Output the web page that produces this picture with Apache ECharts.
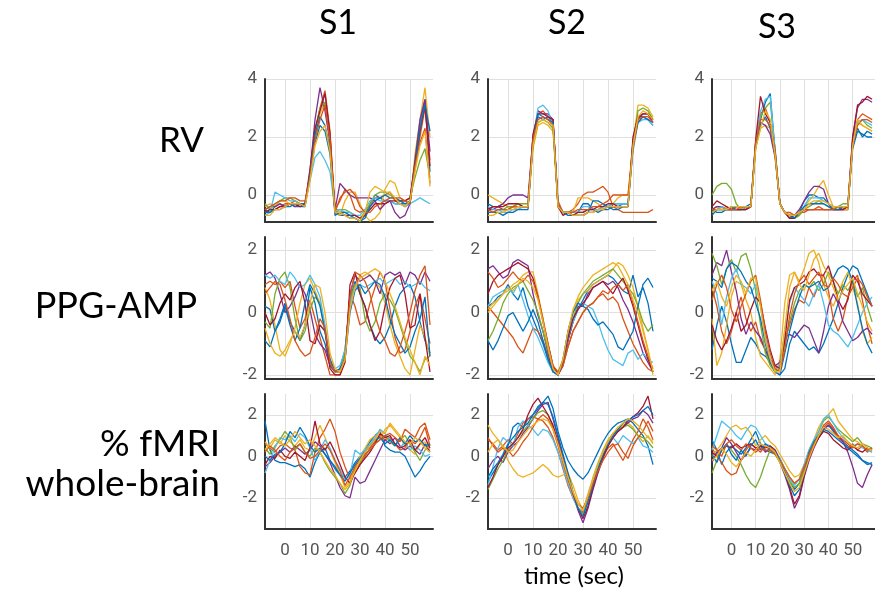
<!DOCTYPE html>
<html><head><meta charset="utf-8">
<script src="https://cdn.jsdelivr.net/npm/echarts@6/dist/echarts.min.js"></script>
<style>html,body{margin:0;padding:0;background:#fff}#c{width:875px;height:613px}</style>
</head><body><div id="c"></div>
<script>
// ---------- data ----------
const TIME = [-8,-6,-4,-2,0,2,4,6,8,10,12,14,16,18,20,22,24,26,28,30,32,34,36,38,40,42,44,46,48,50,52,54,56,58];
const X_TICKS = [0,10,20,30,40,50];
const RV_TICKS = [0,2,4];
const PPG_TICKS = [-2,0,2];
const FMRI_TICKS = [-2,0,2];
const COL_TITLES = ['S1','S2','S3'];
const ROW_TITLES = ['RV','PPG-AMP','% fMRI\nwhole-brain'];
const X_TITLE = 'time (sec)';
const COLORS = ['#0072BD','#D95319','#EDB120','#7E2F8E','#77AC30','#4DBEEE','#A2142F'];

const S1_RV = [
[-0.5,-0.6,-0.4,-0.3,-0.4,-0.3,-0.4,-0.4,-0.4,0.6,1.8,2.4,2.2,1.4,-0.6,-0.7,-0.7,-0.8,-0.8,-0.9,-0.7,-0.3,0.0,-0.1,-0.2,-0.2,-0.3,-0.3,-0.3,-0.2,1.2,2.5,3.3,0.8],
[-0.6,-0.5,-0.5,-0.4,-0.3,-0.3,-0.2,-0.3,-0.3,0.7,2.2,3.0,3.6,2.2,-0.5,-0.2,0.2,0.0,-0.5,-0.6,-0.5,-0.4,-0.1,-0.1,0.0,0.1,-0.2,-0.3,-0.4,-0.3,0.9,2.0,3.0,1.2],
[-0.4,-0.3,-0.4,-0.2,-0.2,-0.3,-0.3,-0.3,-0.3,0.6,2.0,2.8,3.2,1.9,-0.6,-0.7,-0.2,0.1,0.1,-0.3,-0.7,-0.9,-0.8,-0.6,0.2,0.5,0.4,-0.1,-0.2,-0.3,1.4,2.6,3.7,2.0],
[-0.5,-0.4,-0.4,-0.3,-0.4,-0.3,-0.4,-0.3,-0.4,0.8,2.6,3.7,2.9,1.8,-0.5,0.4,0.2,0.0,-0.1,-0.1,-0.1,-0.1,-0.2,-0.5,-0.3,-0.2,-0.6,-0.8,-0.7,-0.3,1.2,2.6,3.3,1.5],
[-0.3,-0.5,-0.3,-0.2,-0.1,-0.1,-0.2,-0.3,-0.3,0.6,2.2,3.0,3.2,2.0,-0.6,-0.5,-0.5,-0.6,-0.7,-0.8,-0.6,-0.3,0.0,0.1,0.1,0.0,-0.1,-0.2,-0.2,-0.1,0.6,1.2,1.6,0.6],
[-0.7,-0.6,0.1,0.0,-0.1,-0.2,-0.2,-0.3,-0.3,0.5,1.3,1.5,1.2,0.8,-0.5,-0.5,-0.6,-0.6,-0.7,-0.7,-0.5,-0.2,-0.1,-0.2,-0.2,-0.2,-0.3,-0.3,-0.4,-0.3,-0.2,-0.1,-0.2,-0.3],
[-0.6,-0.5,-0.5,-0.4,-0.4,-0.3,-0.3,-0.4,-0.3,0.9,2.3,2.9,3.5,2.1,-0.6,-0.6,-0.7,-0.7,-0.7,-0.8,-0.7,-0.5,-0.3,-0.3,-0.3,-0.2,-0.2,-0.2,-0.2,-0.1,1.1,2.2,3.1,1.0],
[-0.6,-0.6,-0.5,-0.5,-0.4,-0.4,-0.3,-0.3,-0.3,0.7,2.1,2.7,2.4,1.6,-0.7,-0.6,-0.6,-0.7,-0.8,-0.9,-0.8,-0.4,-0.2,-0.1,0.0,-0.1,-0.1,-0.2,-0.3,-0.3,1.0,2.3,3.1,2.2],
[-0.5,-0.4,-0.3,-0.2,-0.2,-0.1,-0.1,-0.2,-0.2,0.6,1.9,2.6,3.1,1.9,-0.6,-0.1,0.1,0.2,0.0,-0.4,-0.6,-0.6,-0.4,-0.3,-0.2,-0.1,-0.1,-0.1,-0.2,-0.3,1.0,1.8,2.3,0.4],
[-0.7,-0.7,-0.5,-0.5,-0.4,-0.3,-0.3,-0.3,-0.4,0.5,1.7,2.2,2.4,1.5,-0.6,-0.6,-0.7,-0.8,-0.8,-0.9,-0.6,0.1,0.3,0.2,0.1,0.1,-0.1,-0.3,-0.4,-0.2,0.8,1.7,2.2,0.3]
];
const S2_RV = [
[-0.3,-0.4,-0.4,-0.5,-0.5,-0.4,-0.4,-0.4,-0.4,1.8,2.7,2.6,2.7,2.5,-0.3,-0.6,-0.6,-0.6,-0.6,-0.3,-0.3,-0.5,-0.6,-0.5,-0.5,-0.4,-0.4,-0.3,-0.3,1.6,2.7,2.7,2.6,2.4],
[-0.5,-0.4,-0.4,-0.3,-0.4,-0.4,-0.3,-0.4,-0.4,2.0,2.8,2.9,2.7,2.6,-0.2,-0.6,-0.6,-0.5,-0.3,0.0,0.1,0.1,0.2,0.3,0.1,-0.4,-0.5,-0.6,-0.6,-0.6,-0.6,-0.6,-0.6,-0.5],
[0.0,-0.1,-0.2,-0.3,-0.4,-0.4,-0.5,-0.4,-0.4,1.6,2.4,2.5,2.4,2.2,-0.3,-0.6,-0.6,-0.6,-0.1,-0.1,-0.1,-0.2,-0.3,-0.5,-0.4,-0.3,-0.1,0.0,0.0,1.8,3.1,3.1,3.0,2.7],
[-0.5,-0.5,-0.4,-0.3,-0.1,0.0,0.0,0.0,-0.1,2.0,2.9,2.8,2.8,2.6,-0.4,-0.6,-0.6,-0.7,-0.7,-0.7,-0.6,-0.6,-0.5,-0.5,-0.4,-0.4,-0.4,-0.4,-0.4,1.9,2.6,2.8,2.8,2.5],
[-0.6,-0.6,-0.5,-0.5,-0.4,-0.4,-0.3,-0.3,-0.3,1.7,2.5,2.6,2.5,2.3,-0.4,-0.6,-0.6,-0.6,-0.6,-0.6,-0.5,-0.5,-0.5,-0.4,-0.4,-0.3,-0.3,-0.3,-0.3,1.8,2.9,3.0,2.9,2.6],
[-0.4,-0.5,-0.5,-0.6,-0.6,-0.5,-0.5,-0.4,-0.4,1.9,3.0,3.1,2.9,2.4,-0.3,-0.6,-0.6,-0.6,-0.6,-0.4,-0.4,-0.5,-0.5,-0.4,-0.4,-0.3,-0.3,-0.3,-0.3,1.5,2.5,2.6,2.6,2.4],
[-0.5,-0.4,-0.4,-0.4,-0.3,-0.3,-0.3,-0.4,-0.4,2.1,2.8,2.8,2.7,2.6,-0.4,-0.7,-0.6,-0.7,-0.6,-0.6,-0.5,-0.5,-0.4,-0.4,-0.3,-0.3,-0.4,-0.4,-0.4,2.0,2.7,2.8,2.8,2.6],
[-0.6,-0.6,-0.6,-0.7,-0.6,-0.6,-0.5,-0.5,-0.5,1.8,2.8,2.7,2.6,2.5,-0.3,-0.6,-0.7,-0.7,-0.7,-0.7,-0.6,-0.2,-0.2,-0.3,-0.4,-0.5,-0.5,-0.4,-0.4,1.7,2.5,2.7,2.6,2.5],
[-0.5,-0.6,-0.5,-0.5,-0.5,-0.4,-0.4,-0.4,-0.4,1.9,2.6,2.7,2.6,2.4,-0.3,-0.6,-0.6,-0.6,-0.5,-0.5,-0.5,-0.4,-0.4,-0.3,-0.2,0.0,0.0,0.0,0.0,1.6,2.6,2.7,2.7,2.5],
[-0.7,-0.7,-0.6,-0.6,-0.5,-0.5,-0.4,-0.4,-0.4,1.7,2.5,2.6,2.5,2.4,-0.4,-0.6,-0.6,-0.7,-0.7,-0.7,-0.6,-0.6,-0.5,-0.5,-0.4,-0.4,-0.4,-0.4,-0.4,1.7,2.7,2.9,2.8,2.6]
];
const S3_RV = [
[-0.7,-0.5,-0.5,-0.5,-0.4,-0.5,-0.5,-0.4,-0.3,1.8,2.6,3.2,3.5,1.5,-0.3,-0.6,-0.7,-0.7,-0.6,-0.2,0.0,0.0,-0.1,-0.1,-0.3,-0.4,-0.4,-0.5,-0.5,1.8,2.3,2.0,2.2,2.1],
[-0.5,-0.5,-0.4,-0.5,-0.5,-0.4,-0.4,-0.5,-0.4,1.7,2.8,3.0,2.5,1.6,-0.3,-0.6,-0.6,-0.7,-0.6,-0.6,-0.5,-0.5,-0.4,-0.5,-0.5,-0.5,-0.5,-0.5,-0.5,1.9,2.6,2.8,2.7,2.6],
[-0.5,-0.4,-0.5,-0.4,-0.5,-0.5,-0.5,-0.4,-0.4,1.6,2.3,2.4,2.3,1.4,-0.3,-0.6,-0.7,-0.8,-0.7,-0.4,-0.2,0.0,0.3,0.5,0.0,-0.4,-0.5,-0.5,-0.5,1.8,2.5,2.4,2.3,2.2],
[-0.5,-0.4,-0.4,-0.5,-0.5,-0.5,-0.5,-0.5,-0.4,1.7,2.5,2.4,2.1,1.3,-0.3,-0.6,-0.8,-0.7,-0.5,-0.2,0.1,0.3,0.3,0.2,-0.3,-0.5,-0.5,-0.5,-0.4,2.0,3.0,3.3,3.3,3.2],
[0.0,0.3,0.4,0.4,0.2,-0.3,-0.5,-0.5,-0.4,1.6,2.7,3.0,3.2,1.6,-0.3,-0.6,-0.8,-0.8,-0.7,-0.5,-0.4,-0.3,-0.2,-0.3,-0.4,-0.5,-0.4,-0.3,-0.3,1.7,2.5,2.6,2.4,2.3],
[-0.5,-0.5,-0.4,-0.5,-0.5,-0.5,-0.5,-0.4,-0.4,1.8,2.9,3.3,3.4,1.5,-0.3,-0.6,-0.7,-0.7,-0.6,-0.4,-0.1,-0.1,-0.1,-0.2,-0.3,-0.4,-0.4,-0.4,-0.4,1.8,2.5,2.6,2.5,2.4],
[-0.4,-0.2,-0.3,-0.4,-0.5,-0.5,-0.5,-0.5,-0.4,1.9,3.4,2.8,2.5,1.5,-0.3,-0.6,-0.8,-0.8,-0.6,-0.5,-0.5,-0.5,-0.5,-0.5,-0.5,-0.5,-0.5,-0.5,-0.4,2.0,3.1,3.2,3.4,3.3],
[-0.5,-0.6,-0.6,-0.5,-0.5,-0.4,-0.4,-0.4,-0.4,1.7,2.4,2.7,2.3,1.4,-0.3,-0.6,-0.7,-0.8,-0.6,-0.4,-0.3,-0.3,-0.3,-0.3,-0.4,-0.5,-0.5,-0.4,-0.4,1.6,2.2,2.1,2.0,2.0],
[-0.5,-0.5,-0.5,-0.5,-0.5,-0.5,-0.4,-0.4,-0.4,1.8,2.6,2.6,2.4,1.4,-0.3,-0.6,-0.7,-0.7,-0.6,-0.5,-0.5,-0.5,-0.5,-0.5,-0.5,-0.5,-0.4,-0.4,-0.4,1.7,2.4,2.6,2.6,2.5],
[-0.6,-0.5,-0.5,-0.5,-0.4,-0.4,-0.4,-0.4,-0.4,1.6,2.3,2.9,2.6,1.4,-0.3,-0.6,-0.7,-0.7,-0.6,-0.5,-0.3,-0.2,-0.2,-0.2,-0.3,-0.4,-0.4,-0.4,-0.4,1.7,2.6,2.4,2.3,2.2]
];
const S1_PPG = [
[0.2,0.1,-0.6,-0.2,0.3,-0.3,-0.6,-0.9,-0.4,0.8,0.3,-0.6,-1.0,-1.7,-1.9,-1.8,-1.2,0.4,1.0,0.6,0.2,-0.4,-0.8,-1.0,-0.8,-0.4,0.2,0.6,0.8,0.9,0.5,-0.3,-0.9,-1.3],
[0.9,1.0,0.9,1.0,0.8,1.0,0.2,-0.5,-0.2,0.4,-0.2,-0.8,-1.4,-2.0,-2.0,-2.0,-1.5,0.6,0.2,-0.4,-0.3,0.3,0.8,1.3,1.0,0.1,-0.8,-1.3,-1.2,-0.6,0.2,0.6,-0.2,-1.0],
[0.8,0.4,-0.4,-1.2,-1.4,-1.0,-0.5,0.3,0.9,1.1,0.7,0.3,-0.5,-1.6,-1.9,-1.8,-1.4,0.2,0.8,1.2,1.3,1.2,1.0,0.8,0.3,-0.4,-1.0,-1.4,-1.8,-2.0,-1.2,-0.4,-0.8,-1.4],
[1.2,1.3,1.1,0.6,0.0,0.2,0.5,0.9,0.6,0.1,-0.7,-1.0,-1.2,-1.7,-1.9,-1.8,-1.4,0.6,1.2,1.0,1.1,1.2,1.0,0.6,1.2,1.3,1.2,1.3,0.9,1.3,1.2,0.9,1.3,1.0],
[-0.3,-0.5,0.6,1.1,1.3,0.8,-0.2,-0.9,-0.6,0.1,0.5,0.3,-0.6,-1.6,-1.9,-1.9,-1.3,0.4,0.9,0.8,-0.2,-0.6,-0.3,0.3,0.6,0.4,0.1,-0.4,-0.9,-1.4,-1.6,-1.9,-1.5,-1.4],
[1.2,1.1,1.2,1.0,0.9,1.3,1.1,0.8,0.9,1.2,0.9,0.5,-0.4,-1.5,-1.8,-1.7,-1.2,0.3,0.8,0.9,0.8,0.9,1.0,1.1,0.9,1.0,1.1,0.9,1.0,0.8,0.9,1.0,0.8,0.7],
[0.0,-0.4,-0.2,0.3,0.6,0.4,0.8,1.0,0.3,-0.9,-1.0,-0.4,-0.6,-1.8,-2.0,-2.0,-1.6,0.9,1.3,0.6,0.2,-0.4,-0.9,-0.6,0.2,0.8,1.1,1.2,0.6,-0.5,-0.4,0.6,-0.8,-1.9],
[-0.9,-1.1,-0.6,-0.3,0.2,-0.4,-0.9,-0.5,0.3,0.9,0.6,0.2,-0.6,-1.5,-1.9,-1.8,-1.5,0.0,0.7,0.9,0.6,0.8,1.0,0.9,0.5,-0.2,-0.7,-1.0,-1.3,-1.1,-0.6,-0.2,0.5,-1.4],
[0.6,0.8,1.0,0.9,0.4,-0.2,-0.9,-1.2,-1.4,-1.3,-0.8,-0.2,-0.5,-1.6,-1.9,-1.9,-1.5,0.5,1.3,1.2,1.0,0.6,-0.1,-0.6,-0.9,-1.3,-1.4,-1.1,-0.6,0.0,0.7,1.2,1.5,-0.4],
[-0.5,-1.0,-1.3,-1.4,-1.2,-0.9,-0.6,-0.8,-0.4,0.3,0.9,0.8,0.0,-1.3,-1.8,-1.9,-1.5,0.1,0.8,1.1,1.2,1.3,1.4,1.3,1.0,0.6,0.2,-0.3,-0.8,-1.2,-1.6,-2.0,-1.4,-1.7]
];
const S2_PPG = [
[0.2,0.3,0.5,0.6,0.9,0.6,0.4,0.8,0.2,-0.2,-0.6,-1.0,-1.5,-1.9,-2.0,-1.6,-0.9,-0.3,0.1,0.4,0.7,0.9,1.0,1.1,1.2,1.1,0.9,0.7,0.6,1.2,0.5,0.8,0.3,-0.6],
[0.2,0.0,-0.2,-0.4,-0.6,-0.8,-1.1,-1.3,-0.9,-0.5,-0.6,-0.9,-1.4,-1.9,-2.0,-1.7,-1.1,-0.6,-0.3,0.0,0.2,0.3,0.5,0.6,0.4,0.5,0.3,-0.2,-0.6,-1.0,-1.3,-1.6,-1.8,-1.9],
[0.1,0.3,0.4,0.6,0.7,0.9,1.0,1.2,1.3,1.3,0.6,-0.2,-1.1,-1.8,-1.9,-1.5,-0.6,0.0,0.4,0.6,0.7,0.9,1.0,1.1,1.2,1.4,1.6,1.5,1.2,0.8,0.2,-0.5,-1.2,-2.0],
[1.4,1.5,1.3,1.1,1.2,1.6,1.7,1.6,1.5,0.6,-0.1,-0.6,-1.3,-1.9,-2.0,-1.7,-0.9,-0.3,0.2,0.2,0.6,0.8,0.9,1.0,0.9,1.0,0.8,0.4,0.1,-0.3,-0.8,-1.3,-1.6,-1.9],
[-0.9,-0.6,-0.2,0.3,0.6,0.8,0.9,1.0,0.7,0.4,0.0,-0.6,-1.2,-1.8,-1.9,-1.6,-0.8,-0.2,0.3,0.6,0.8,1.0,1.1,1.2,1.3,1.4,1.2,1.0,0.8,0.6,0.2,-0.3,-0.6,-0.4],
[0.2,0.5,0.6,0.7,0.8,0.6,0.9,0.4,-0.1,-0.5,-0.8,-1.2,-1.6,-1.9,-2.0,-1.6,-0.8,-0.3,0.1,0.3,0.2,0.1,-0.3,-0.8,-1.2,-1.5,-1.6,-1.7,-1.3,-1.2,-1.5,-1.3,-1.5,-1.6],
[0.6,1.0,1.2,1.3,1.4,1.5,1.6,1.5,1.4,1.1,0.5,-0.3,-1.0,-1.7,-2.0,-1.6,-0.8,-0.2,0.1,0.3,0.5,0.8,0.9,1.0,0.8,0.6,0.9,1.1,0.7,0.2,-0.4,-1.0,-1.5,-1.9],
[-0.9,-1.2,-0.9,-0.5,-0.1,0.0,-0.3,-0.6,-0.3,0.1,-0.3,-0.9,-1.5,-1.9,-2.0,-1.5,-0.6,0.0,0.3,0.2,0.1,-0.2,-0.4,-0.3,-0.5,-0.7,-1.1,-1.2,-0.9,-0.6,0.2,0.9,1.1,0.8],
[1.3,1.1,0.8,0.9,1.1,1.3,1.1,1.0,1.2,1.0,0.5,-0.2,-1.0,-1.7,-1.9,-1.7,-1.1,-0.6,-0.3,0.0,0.2,0.3,0.5,0.7,0.6,0.8,0.9,0.7,0.9,0.3,-0.3,-0.9,-1.4,-1.8],
[0.0,0.2,0.4,0.6,0.8,0.7,0.9,1.1,1.0,0.8,0.4,-0.3,-1.1,-1.8,-2.0,-1.5,-0.6,0.1,0.5,0.8,1.0,1.2,1.3,1.4,1.5,1.6,1.5,1.2,0.9,0.4,0.0,-0.6,-1.2,-1.9]
];
const S3_PPG = [
[-1.2,-0.4,0.2,-0.3,-1.0,-1.6,-1.6,-1.2,-0.8,-1.0,-1.3,-1.4,-1.6,-1.9,-2.0,-1.8,-1.0,-0.6,-0.8,-1.0,-1.2,-1.1,-1.3,-1.0,-0.6,-0.2,0.3,0.8,1.2,1.5,1.4,1.0,0.6,0.2],
[0.8,0.2,-0.6,-1.0,-0.6,0.0,0.5,-0.2,-0.6,-0.3,-0.9,-1.2,-1.6,-1.8,-1.7,-0.9,-0.4,0.1,0.4,0.3,0.8,0.5,0.9,1.2,0.7,-0.2,-0.6,-0.2,0.5,1.0,1.2,0.4,-0.4,-1.0],
[-0.2,-1.7,-1.3,-0.4,0.5,1.0,0.9,0.4,0.0,-0.8,-1.4,-1.6,-1.8,-2.0,-1.5,0.3,1.2,1.3,1.0,1.4,1.9,2.0,1.6,0.9,0.5,0.2,0.6,1.0,1.3,0.8,0.3,-0.6,-1.0,-0.8],
[1.2,1.6,1.5,2.0,1.3,0.7,-0.2,-0.7,-0.3,-0.6,-0.8,-1.2,-1.5,-1.7,-1.6,-0.8,-0.7,-0.8,-0.6,-0.4,-0.5,-0.9,-1.3,-0.6,0.2,0.6,0.3,-0.3,-0.6,-0.9,-0.8,-0.6,-0.5,-0.7],
[1.9,1.5,0.9,1.4,1.7,1.3,1.8,1.9,1.4,0.7,-0.4,-1.3,-1.7,-1.9,-1.8,-1.0,-0.3,0.3,0.7,0.9,0.8,1.0,0.7,0.9,1.3,1.0,0.6,0.9,0.7,1.0,0.5,0.8,0.2,-0.3],
[1.0,0.6,-0.4,0.5,1.1,1.4,0.9,0.8,0.6,0.9,0.2,-0.8,-1.5,-1.8,-1.7,-0.6,0.3,0.8,0.6,0.4,0.2,0.6,0.9,0.3,-0.4,-0.6,-0.7,-0.9,-1.1,-0.8,-0.4,0.0,0.3,0.5],
[-0.4,-0.9,-1.2,-0.9,-0.5,0.0,-0.6,-0.4,0.1,0.5,0.3,-0.5,-1.2,-1.7,-1.8,-0.9,0.4,0.8,0.9,1.0,1.3,1.4,1.2,1.2,1.5,1.0,0.4,0.1,0.4,1.2,1.0,0.6,0.4,0.2],
[1.1,1.0,0.8,1.4,1.6,1.5,1.3,1.0,0.8,0.3,-0.2,-1.0,-1.6,-1.9,-2.0,-1.3,-0.6,0.0,0.5,0.9,0.8,0.9,1.0,0.7,0.8,1.1,1.4,1.5,1.4,1.0,0.2,-0.5,-1.0,-1.3],
[0.4,0.9,1.2,0.8,0.1,-0.3,0.2,0.6,1.0,1.2,0.4,-0.6,-1.3,-1.8,-1.9,-1.2,-0.1,0.6,1.0,1.2,0.9,1.1,1.3,0.9,0.8,1.1,0.9,0.6,0.5,0.8,1.1,0.9,0.5,0.2],
[0.7,1.0,0.5,0.2,0.8,1.2,1.0,0.6,1.1,1.1,0.2,-0.9,-1.5,-1.9,-1.9,-0.5,0.8,1.3,0.9,0.7,1.2,1.7,1.9,1.5,1.2,0.8,0.4,0.7,0.9,1.1,0.6,0.2,-0.3,-0.6]
];
const S1_FMRI = [
[1.7,0.3,-0.2,-0.3,-0.3,-0.4,-0.5,-0.4,-0.6,-1.0,-0.3,0.2,0.4,-0.2,-0.6,-0.9,-1.0,-0.7,-0.3,0.0,0.3,0.7,1.0,1.2,0.5,0.3,0.2,0.2,0.0,-0.5,-1.0,-0.7,-0.3,0.0],
[0.6,0.4,0.2,0.5,0.6,0.4,0.3,-0.5,-0.8,-0.9,0.2,0.9,1.3,1.8,1.2,0.2,-0.5,-1.1,-0.8,-0.4,0.0,0.4,0.7,1.0,0.8,0.9,0.6,0.3,0.4,0.8,0.6,0.9,1.4,0.5],
[0.7,0.4,0.8,0.6,1.0,0.7,0.5,0.8,0.4,0.3,0.9,1.5,0.9,0.3,-0.3,-0.9,-1.5,-1.2,-0.5,0.0,0.4,0.8,1.0,0.8,1.3,1.5,1.2,0.9,0.5,0.3,0.1,0.6,0.7,0.3],
[-0.5,-0.3,0.0,0.2,0.4,0.2,0.5,0.3,0.1,0.3,0.7,0.5,0.1,-0.3,-0.9,-1.5,-1.9,-2.0,-1.0,-1.3,-1.2,-0.7,-0.2,0.3,0.8,0.6,0.9,0.5,0.3,0.5,0.3,0.1,0.6,0.2],
[0.4,0.1,0.5,0.8,1.2,0.9,0.3,0.6,0.2,0.0,0.4,0.2,-0.3,-0.7,-1.0,-1.3,-1.8,-1.4,-0.6,-0.3,0.1,0.3,0.6,0.8,1.0,0.7,0.5,0.8,1.0,0.6,0.2,-0.2,0.3,0.6],
[-0.8,-0.2,0.4,0.9,0.8,1.0,0.7,1.1,0.9,0.4,-0.2,0.3,0.8,0.4,-0.2,-0.6,-1.1,-0.9,0.3,0.1,0.3,0.6,0.9,1.3,1.1,0.8,0.6,0.4,0.7,0.3,0.5,0.3,0.0,0.1],
[-0.4,0.0,-0.1,0.3,0.0,-0.1,0.2,0.0,-0.2,0.4,1.7,0.6,0.3,0.7,0.2,-0.4,-1.0,-1.3,-0.8,-0.4,-0.1,0.2,0.6,1.1,0.9,1.0,0.6,0.4,0.5,0.8,0.3,0.6,0.9,0.4],
[0.0,-0.2,0.1,0.2,0.6,1.2,0.9,1.4,1.0,0.5,0.2,0.4,0.1,-0.2,-0.5,-0.9,-1.2,-0.8,-0.4,-0.1,0.2,0.5,0.8,0.9,0.6,0.8,0.5,0.9,0.6,1.0,0.7,0.8,0.5,0.6],
[0.2,0.5,0.3,0.0,-0.2,0.2,0.4,0.6,0.2,-0.1,0.0,0.3,0.6,0.3,-0.2,-0.7,-1.4,-1.0,-0.5,-0.2,0.1,0.3,0.6,0.8,1.0,1.1,0.9,0.7,1.3,1.1,0.9,1.4,1.6,0.8],
[0.3,0.6,0.9,0.7,0.5,0.8,1.2,0.9,0.6,0.8,0.5,0.2,-0.2,-0.6,-0.9,-1.3,-1.6,-1.3,-0.7,-0.2,0.2,0.5,0.8,1.2,1.1,1.6,1.3,1.0,0.7,0.6,0.9,0.7,0.4,0.2]
];
const S2_FMRI = [
[-1.2,-0.8,-0.4,0.0,0.5,1.4,1.6,1.4,1.8,2.0,2.3,2.6,2.9,2.3,1.2,0.4,-0.2,-0.6,-0.9,-1.1,-0.8,-0.3,0.2,0.7,1.1,1.4,1.6,1.7,1.8,1.6,1.3,1.0,0.5,-0.4],
[0.8,0.6,0.3,0.5,0.8,0.6,1.1,1.6,1.8,1.9,1.8,1.7,1.4,0.9,0.2,-0.6,-1.4,-2.0,-2.5,-2.7,-2.0,-1.3,-0.6,0.0,0.4,0.6,0.2,-0.2,0.3,0.8,1.2,1.8,1.4,0.8],
[1.5,1.1,0.8,0.4,-0.2,-0.6,-0.9,-1.0,-0.9,-0.8,-0.6,-0.4,-0.6,-0.9,-1.0,-0.9,-0.8,-1.4,-2.1,-2.6,-1.8,-1.0,-0.3,0.3,0.8,1.1,1.3,1.5,1.6,1.4,1.0,0.7,1.0,0.6],
[-0.6,-0.2,0.0,-0.3,0.2,0.5,0.7,1.1,1.4,1.8,2.2,2.5,2.6,1.8,0.9,0.0,-0.9,-1.8,-2.6,-3.2,-2.5,-1.6,-0.8,-0.1,0.5,0.9,1.2,1.4,1.6,1.8,1.9,2.2,2.0,1.6],
[-1.6,-1.1,-0.6,-0.2,0.3,0.6,0.9,1.2,1.5,1.8,2.1,2.2,2.0,1.4,0.6,-0.3,-1.1,-1.9,-2.5,-2.8,-2.1,-1.3,-0.5,0.2,0.7,1.1,1.3,1.4,1.5,1.3,1.0,0.9,0.7,0.4],
[-1.4,-0.5,0.4,0.9,0.7,0.5,1.4,1.7,1.5,1.3,1.0,1.3,1.2,0.8,0.2,-0.5,-1.3,-2.0,-2.5,-2.6,-1.9,-1.1,-0.4,0.2,0.6,0.9,0.6,1.0,0.8,0.6,0.9,0.5,0.4,0.2],
[-1.5,-1.0,-0.4,0.0,0.4,0.6,0.9,1.3,2.0,2.5,2.8,2.4,2.0,1.5,0.7,-0.2,-1.0,-1.8,-2.5,-3.0,-2.4,-1.5,-0.7,0.0,0.5,0.9,1.2,1.4,1.7,1.9,2.1,2.4,2.9,1.8],
[-1.0,-0.6,-0.3,0.1,0.6,0.9,1.2,1.4,1.6,2.0,2.4,2.6,2.5,1.9,1.0,0.1,-0.8,-1.7,-2.5,-2.9,-2.2,-1.4,-0.6,0.1,0.6,1.0,1.3,1.6,1.7,1.9,2.0,2.2,2.4,2.0],
[0.9,0.5,0.2,0.4,0.3,0.0,0.3,0.7,1.0,1.4,1.8,2.0,1.8,1.3,0.5,-0.3,-1.1,-1.8,-2.3,-2.5,-2.0,-1.3,-0.7,-0.2,0.2,0.5,0.6,0.2,-0.1,0.5,0.9,1.2,1.7,1.2],
[0.2,0.6,0.8,0.5,0.2,0.3,0.7,1.0,1.3,1.5,1.7,1.8,1.7,1.3,0.6,-0.2,-1.0,-1.7,-2.3,-2.6,-1.9,-1.1,-0.4,0.2,0.7,1.1,1.4,1.6,1.8,1.7,1.5,1.2,0.9,0.7]
];
const S3_FMRI = [
[0.8,0.3,-0.4,0.2,0.5,0.3,0.1,0.4,0.8,1.2,0.6,0.3,0.2,0.1,-0.2,-0.7,-1.2,-1.6,-1.3,-0.6,0.1,0.6,0.9,1.3,1.5,1.2,0.9,0.7,0.5,0.3,0.1,-0.2,-0.4,-0.3],
[0.4,0.0,-0.3,-0.7,-0.9,-0.8,-0.2,0.3,0.6,0.4,0.2,0.5,0.3,0.2,-0.1,-0.6,-1.0,-1.3,-1.1,-0.6,0.0,0.5,0.9,1.4,1.6,1.3,0.9,0.7,0.4,0.6,0.3,0.5,0.2,0.4],
[0.0,0.3,0.6,1.0,1.4,1.5,1.3,1.4,1.1,0.5,0.8,1.0,0.7,0.5,0.1,-0.3,-0.7,-1.0,-0.9,-0.4,0.3,0.8,1.4,1.8,2.0,2.3,1.7,1.4,1.1,0.8,0.7,0.5,0.3,0.2],
[-0.3,0.2,0.4,0.9,0.6,0.2,-0.2,0.1,0.4,0.3,0.5,0.2,0.4,0.2,-0.3,-0.9,-1.6,-2.5,-2.0,-1.0,-0.2,0.4,0.9,1.3,1.5,1.3,1.0,0.7,0.2,-0.5,-1.3,-1.5,-0.9,-0.4],
[-0.8,-0.2,0.3,0.6,0.3,0.0,-0.4,-0.9,-1.3,-1.5,-1.0,-0.3,0.3,0.1,-0.3,-0.8,-1.2,-1.5,-1.3,-0.7,0.0,0.6,1.2,1.7,1.9,1.6,1.3,1.1,0.9,0.7,0.9,0.6,0.5,0.4],
[0.3,1.0,1.7,1.5,1.3,1.0,0.8,1.2,1.5,1.4,1.0,0.6,0.5,0.3,-0.1,-0.6,-1.1,-1.4,-1.1,-0.4,0.3,0.8,1.2,1.8,2.0,1.6,1.2,0.9,0.7,0.5,0.6,0.4,0.3,0.2],
[0.2,0.0,0.3,0.5,0.4,0.6,0.4,0.5,0.6,0.4,0.5,0.4,0.5,0.3,-0.2,-0.8,-1.5,-2.3,-1.9,-0.9,-0.1,0.5,0.9,1.2,1.1,0.8,0.6,0.4,0.3,0.5,0.3,0.2,0.4,0.3],
[0.1,-0.3,0.3,0.6,0.1,-0.2,0.3,0.0,0.5,0.8,0.3,0.6,0.4,0.2,-0.2,-0.8,-1.4,-1.9,-1.6,-0.8,0.2,0.7,1.0,1.3,1.2,1.0,0.8,0.6,0.4,0.2,0.0,-0.2,-0.3,-0.4],
[0.5,0.3,0.0,0.6,0.8,0.5,0.3,0.6,0.4,0.2,0.4,0.3,0.3,0.1,-0.2,-0.6,-1.0,-1.3,-1.1,-0.5,0.1,0.6,1.0,1.5,1.7,1.4,1.0,0.8,0.6,0.4,0.6,0.5,0.3,0.4],
[-0.2,0.0,0.4,0.1,-0.3,-0.5,-0.2,0.2,0.0,0.3,0.6,0.5,0.4,0.2,-0.3,-0.8,-1.3,-1.7,-1.5,-0.8,-0.1,0.5,1.0,1.4,1.3,1.1,0.9,1.0,0.7,0.5,0.4,0.6,0.4,0.3]
];

// ---------- layout ----------
const PANELS = [[S1_RV,S2_RV,S3_RV],[S1_PPG,S2_PPG,S3_PPG],[S1_FMRI,S2_FMRI,S3_FMRI]];
const ROW_TICKS = [RV_TICKS, PPG_TICKS, FMRI_TICKS];
const colLeft = [265, 488, 712], colW = 168;
const rowTop = [79, 237, 394], rowH = [143, 142, 135];
const yMin = [-0.93, -2.13, -3.5], yMax = [4, 2.42, 3.0];
const xMin = -8, xMax = 59.2;

const grids = [], xAxes = [], yAxes = [], series = [];
for (let r = 0; r < 3; r++) {
  for (let c = 0; c < 3; c++) {
    const k = r * 3 + c;
    grids.push({left: colLeft[c], top: rowTop[r], width: colW, height: rowH[r], containLabel: false});
    xAxes.push({
      type: 'value', gridIndex: k, min: xMin, max: xMax, position: 'bottom',
      axisLine: {show: true, onZero: false, lineStyle: {color: '#333', width: 2}},
      axisTick: {show: false, customValues: X_TICKS},
      axisLabel: {show: r === 2, customValues: X_TICKS, color: '#555', fontFamily: 'Roboto', fontSize: 17, margin: 13},
      splitLine: {show: true, lineStyle: {color: '#e0e0e0', width: 1}}
    });
    yAxes.push({
      type: 'value', gridIndex: k, min: yMin[r], max: yMax[r], position: 'left',
      axisLine: {show: true, onZero: false, lineStyle: {color: '#333', width: 2}},
      axisTick: {show: false, customValues: ROW_TICKS[r]},
      axisLabel: {show: true, customValues: ROW_TICKS[r], color: '#555', fontFamily: 'Roboto', fontSize: 17, margin: 8},
      splitLine: {show: true, lineStyle: {color: '#e0e0e0', width: 1}}
    });
    PANELS[r][c].forEach((vals, i) => {
      series.push({
        type: 'line', xAxisIndex: k, yAxisIndex: k, symbol: 'none', silent: true,
        lineStyle: {color: COLORS[i % COLORS.length], width: 1.3},
        data: TIME.map((t, j) => [t, vals[j]])
      });
    });
  }
}

const bigFont = 'Lato, "Open Sans", sans-serif';
const graphic = [
  {type: 'text', x: 338, y: 23, style: {text: COL_TITLES[0], font: '34px ' + bigFont, fill: '#000', align: 'center', verticalAlign: 'middle'}},
  {type: 'text', x: 567, y: 23, style: {text: COL_TITLES[1], font: '34px ' + bigFont, fill: '#000', align: 'center', verticalAlign: 'middle'}},
  {type: 'text', x: 777, y: 27, style: {text: COL_TITLES[2], font: '34px ' + bigFont, fill: '#000', align: 'center', verticalAlign: 'middle'}},
  {type: 'text', x: 204, y: 141, style: {text: ROW_TITLES[0], font: '35px ' + bigFont, fill: '#000', align: 'right', verticalAlign: 'middle'}},
  {type: 'text', x: 197, y: 306, style: {text: ROW_TITLES[1], font: '36px ' + bigFont, fill: '#000', align: 'right', verticalAlign: 'middle'}},
  {type: 'text', x: 220, y: 464, style: {text: ROW_TITLES[2], font: '37px ' + bigFont, lineHeight: 40, fill: '#000', align: 'right', verticalAlign: 'middle'}},
  {type: 'text', x: 574, y: 576, style: {text: X_TITLE, font: '24px ' + bigFont, fill: '#000', align: 'center', verticalAlign: 'middle'}}
];

const chart = echarts.init(document.getElementById('c'), null, {renderer: 'canvas'});
chart.setOption({
  animation: false,
  backgroundColor: '#fff',
  grid: grids, xAxis: xAxes, yAxis: yAxes, series: series, graphic: graphic
});
</script></body></html>
